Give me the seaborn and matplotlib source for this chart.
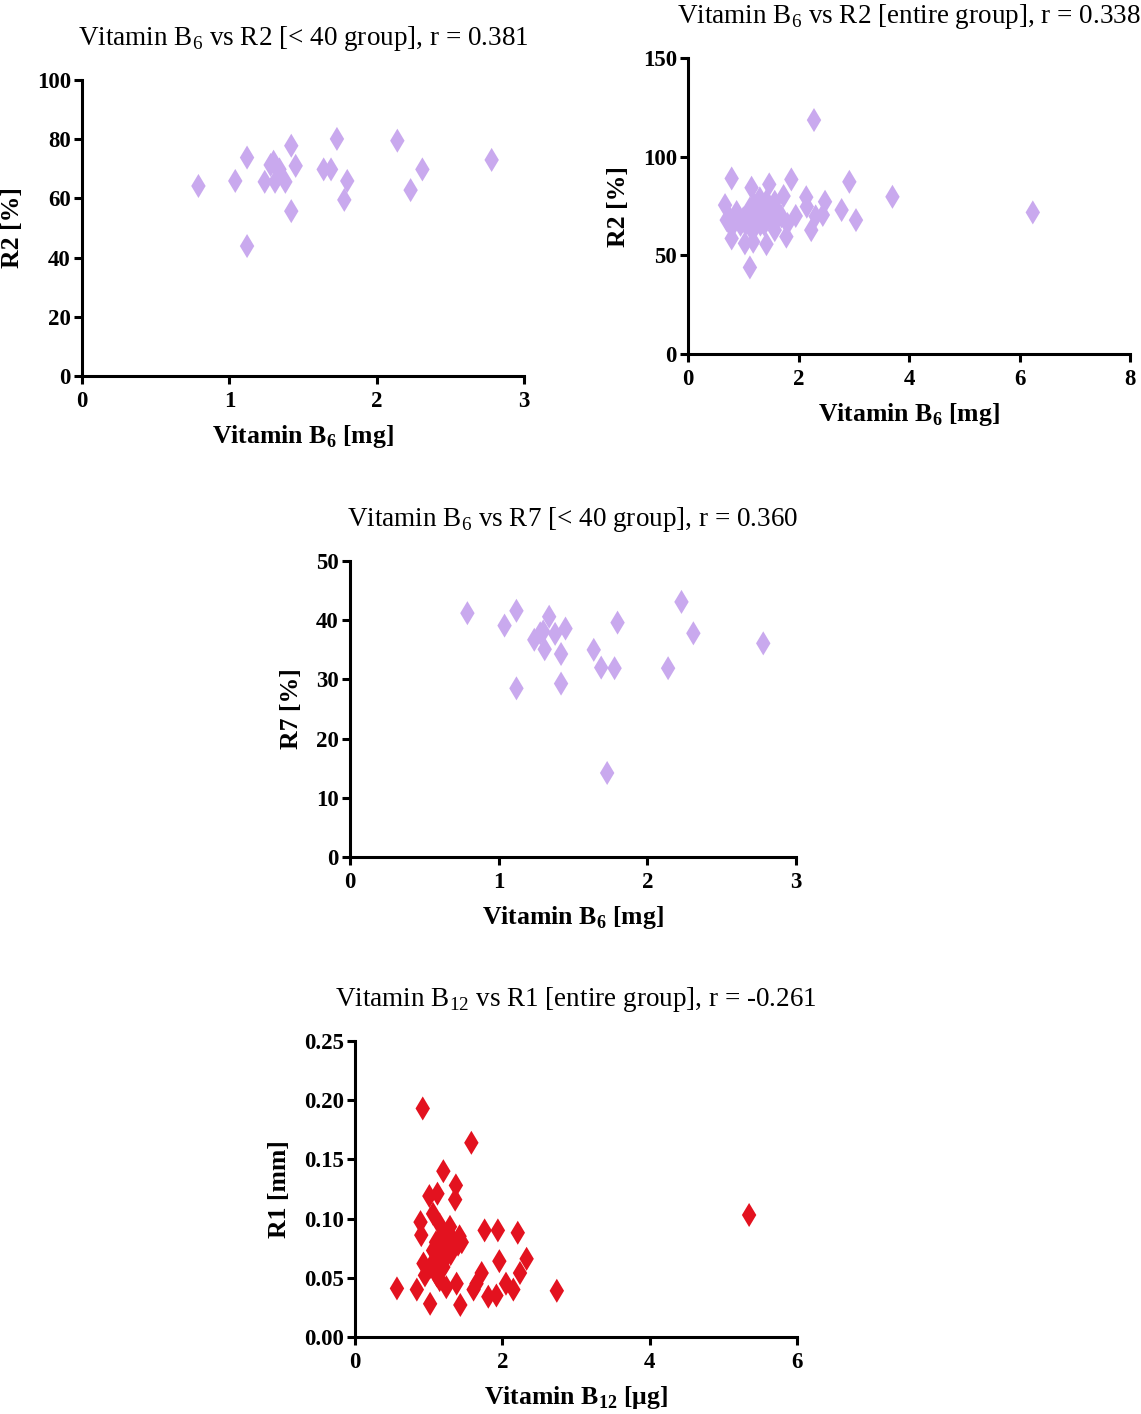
import numpy as np
import pandas as pd
import seaborn as sns
import matplotlib.pyplot as plt

# < 40 group (vitamin B6 intake, R2 and R7)
b6_young = [0.79, 1.04, 1.12, 1.12, 1.24, 1.28, 1.30, 1.31, 1.34, 1.38, 1.42,
            1.42, 1.45, 1.64, 1.69, 1.73, 1.78, 1.80, 2.14, 2.23, 2.31, 2.78]
r2_young = [64.2, 65.9, 73.8, 43.9, 65.6, 71.3, 72.4, 65.6, 69.8, 65.6, 77.8,
            55.7, 71.0, 69.8, 69.8, 80.1, 59.5, 65.9, 79.5, 62.8, 69.8, 73.0]
r7_young = [41.2, 39.1, 41.6, 28.5, 36.7, 37.8, 38.1, 35.1, 40.6, 37.7, 34.3,
            29.3, 38.6, 35.0, 32.0, 14.2, 31.9, 39.6, 31.9, 43.1, 37.8, 36.1]

# remaining subjects (>= 40 group), added for the entire-group panel
b6_older = [0.67, 0.70, 0.76, 0.79, 0.79, 0.88, 0.95, 1.00, 1.03, 1.08, 1.12,
            1.15, 1.18, 1.20, 1.22, 1.26, 1.30, 1.35, 1.40, 1.47, 1.48, 1.52,
            1.57, 1.57, 1.62, 1.87, 1.95, 2.15, 2.28, 2.44, 2.48, 2.92, 3.04,
            3.70, 6.24]
r2_older = [75.5, 67.9, 68.8, 89.0, 58.6, 72.0, 65.5, 68.8, 56.1, 70.0, 64.5,
            84.3, 56.9, 76.0, 68.0, 74.5, 78.9, 67.0, 74.0, 86.0, 73.8, 68.0,
            77.2, 62.8, 72.5, 88.5, 70.0, 74.7, 118.6, 70.5, 77.2, 87.3, 67.9,
            79.7, 71.8]

# entire group, vitamin B12 vs R1
b12_all = [0.57, 0.84, 0.89, 0.90, 0.92, 0.93, 0.95, 1.01, 1.02, 1.02, 1.06,
           1.06, 1.08, 1.10, 1.11, 1.11, 1.12, 1.15, 1.15, 1.18, 1.20, 1.20,
           1.20, 1.22, 1.24, 1.24, 1.27, 1.29, 1.30, 1.32, 1.33, 1.36, 1.37,
           1.38, 1.40, 1.42, 1.43, 1.45, 1.58, 1.61, 1.65, 1.72, 1.76, 1.81,
           1.92, 1.94, 1.96, 2.05, 2.15, 2.21, 2.24, 2.33, 2.74, 5.35]
r1_all = [0.041, 0.040, 0.097, 0.086, 0.193, 0.062, 0.052, 0.119, 0.059, 0.028,
          0.104, 0.073, 0.063, 0.080, 0.068, 0.052, 0.121, 0.095, 0.048, 0.086,
          0.140, 0.076, 0.059, 0.066, 0.082, 0.042, 0.088, 0.093, 0.070, 0.083,
          0.075, 0.116, 0.128, 0.045, 0.078, 0.085, 0.027, 0.080, 0.164, 0.040,
          0.045, 0.054, 0.090, 0.034, 0.035, 0.090, 0.064, 0.045, 0.040, 0.088,
          0.054, 0.066, 0.039, 0.103]

lavender = '#c9a9ee'
red = '#e3121f'

sns.set_style('white')
plt.rcParams['font.family'] = ['Liberation Serif', 'DejaVu Serif']
plt.rcParams['mathtext.fontset'] = 'custom'
plt.rcParams['mathtext.rm'] = 'Liberation Serif'
plt.rcParams['mathtext.bf'] = 'Liberation Serif:bold'
plt.rcParams['text.color'] = 'black'
plt.rcParams['axes.labelcolor'] = 'black'
plt.rcParams['xtick.color'] = 'black'
plt.rcParams['ytick.color'] = 'black'

df_young = pd.DataFrame({'b6': b6_young, 'r2': r2_young, 'r7': r7_young})
df_all = pd.DataFrame({'b6': b6_young + b6_older, 'r2': r2_young + r2_older})
df_b12 = pd.DataFrame({'b12': b12_all, 'r1': r1_all})

fig = plt.figure(figsize=(11.41, 14.14), dpi=100)


def panel(rect, data, x, y, color, title, xlabel, ylabel, xlim, xticks, ylim, yticks, yfmt):
    ax = fig.add_axes(rect)
    sns.scatterplot(data=data, x=x, y=y, ax=ax, marker='d', s=150, color=color,
                    edgecolor='none', clip_on=False)
    ax.set_xlim(*xlim)
    ax.set_ylim(*ylim)
    ax.set_xticks(xticks)
    ax.set_yticks(yticks)
    ax.set_yticklabels([yfmt.format(v) for v in yticks])
    sns.despine(ax=ax)
    for s in ['left', 'bottom']:
        ax.spines[s].set_linewidth(2.2)
        ax.spines[s].set_color('black')
    ax.tick_params(direction='out', length=6, width=2.2, labelsize=16.5,
                   left=True, bottom=True)
    ax.tick_params(axis='x', pad=5)
    ax.tick_params(axis='y', pad=2)
    for lab in ax.get_xticklabels() + ax.get_yticklabels():
        lab.set_fontweight('bold')
    ax.set_xlabel(xlabel, fontsize=18.5, fontweight='bold', labelpad=8)
    ax.set_ylabel(ylabel, fontsize=18.5, fontweight='bold', labelpad=9)
    ax.set_title(title, fontsize=19.5, pad=25)
    return ax


panel([0.0719, 0.7341, 0.3874, 0.2093], df_young, 'b6', 'r2', lavender,
      r'Vitamin B$_{6}$ vs R2 [< 40 group], r = 0.381',
      r'Vitamin B$_\mathbf{6}$ [mg]', 'R2 [%]',
      (0, 3), [0, 1, 2, 3], (0, 100), [0, 20, 40, 60, 80, 100], '{:d}')

panel([0.603, 0.7496, 0.3874, 0.2093], df_all, 'b6', 'r2', lavender,
      r'Vitamin B$_{6}$ vs R2 [entire group], r = 0.338',
      r'Vitamin B$_\mathbf{6}$ [mg]', 'R2 [%]',
      (0, 8), [0, 2, 4, 6, 8], (0, 150), [0, 50, 100, 150], '{:d}')

panel([0.3067, 0.3939, 0.3909, 0.2093], df_young, 'b6', 'r7', lavender,
      r'Vitamin B$_{6}$ vs R7 [< 40 group], r = 0.360',
      r'Vitamin B$_\mathbf{6}$ [mg]', 'R7 [%]',
      (0, 3), [0, 1, 2, 3], (0, 50), [0, 10, 20, 30, 40, 50], '{:d}')

panel([0.3111, 0.0545, 0.3874, 0.2093], df_b12, 'b12', 'r1', red,
      r'Vitamin B$_{12}$ vs R1 [entire group], r = -0.261',
      r'Vitamin B$_\mathbf{12}$ [μg]', 'R1 [mm]',
      (0, 6), [0, 2, 4, 6], (0, 0.25), [0, 0.05, 0.10, 0.15, 0.20, 0.25], '{:.2f}')

fig.savefig('out.png', dpi=100)
